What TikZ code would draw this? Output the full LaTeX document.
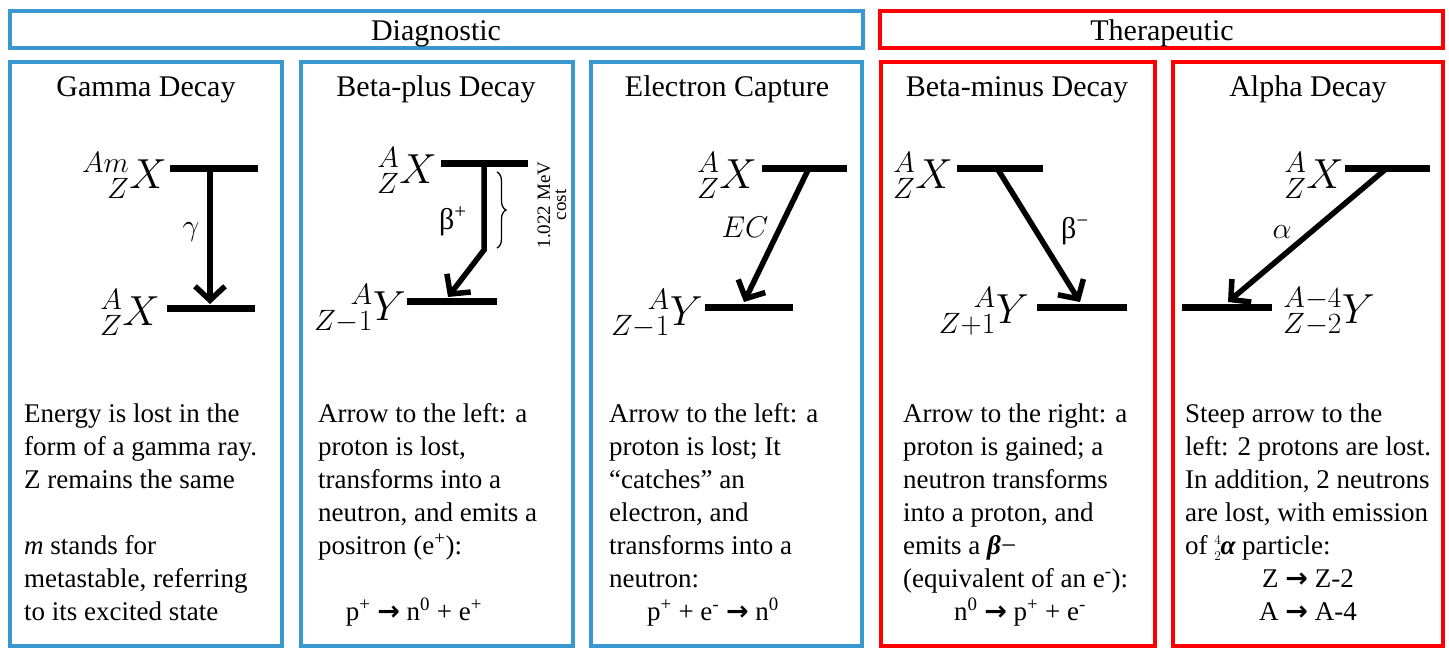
\RequirePackage{fix-cm}
\documentclass[tikz,border=0pt]{standalone}
\usepackage{fontspec}
\setmainfont{Liberation Serif}
\newfontfamily\arrowfont{DejaVu Sans}
\usetikzlibrary{arrows.meta,decorations.pathreplacing}
\definecolor{diagblue}{RGB}{57,152,208}
\definecolor{therred}{RGB}{255,0,0}
\newcommand\harr{{\arrowfont\bfseries →}}
\newcommand\nucl[3]{\setbox0\hbox{$\scriptstyle#1$}\setbox2\hbox{$\scriptstyle#2$}%
  \ifdim\wd0>\wd2 \dimen0=\wd0 \else \dimen0=\wd2 \fi
  {}^{\hbox to\dimen0{\hss\box0}}_{\hbox to\dimen0{\hss\box2}}#3}
\begin{document}
\begin{tikzpicture}[x=1pt,y=-1pt,
 dbox/.style={draw=diagblue,line width=4pt},
 tbox/.style={draw=therred,line width=4pt},
 title/.style={font=\fontsize{30}{30}\selectfont,anchor=base,inner sep=0pt},
 level/.style={line width=7pt},
 decay/.style={line width=5.5pt,-{Straight Barb[length=14pt,width=30pt]}},
 nuc/.style={anchor=base east,inner sep=0pt,font=\fontsize{42}{42}\selectfont},
 nucw/.style={nuc,anchor=base west},
 lab/.style={inner sep=0pt,font=\fontsize{30}{30}\selectfont},
 body/.style={anchor=base west,align=left,inner sep=0pt,font=\fontsize{27}{33}\selectfont},
 eqn/.style={anchor=base,inner sep=0pt,font=\fontsize{27}{33}\selectfont}]
\useasboundingbox (0,0) rectangle (1449,648);
\fill[white] (0,0) rectangle (1449,648);
% headers
\draw[dbox] (9.5,10.5) rectangle (862.5,47.5);
\draw[tbox] (880,10.5) rectangle (1443,47.5);
\node[title] (diag) at (436,40) {Diagnostic};
\node[title] (ther) at (1162,40) {Therapeutic};
% panels
\draw[dbox] (10,61.5) rectangle (281.5,646);
\draw[dbox] (300.5,61.5) rectangle (572.5,646);
\draw[dbox] (591,61.5) rectangle (862,646);
\draw[tbox] (881,61.5) rectangle (1155,646);
\draw[tbox] (1173,61.5) rectangle (1443,646);
\node[title] (t1) at (146,96) {Gamma Decay};
\node[title] (t2) at (436,96) {Beta-plus Decay};
\node[title] (t3) at (727,96) {Electron Capture};
\node[title] (t4) at (1017,96) {Beta-minus Decay};
\node[title] (t5) at (1308,96) {Alpha Decay};
% ---------- Gamma
\coordinate (g1a) at (170,168); \coordinate (g1b) at (258,168);
\coordinate (g2a) at (167,308); \coordinate (g2b) at (255,308);
\coordinate (gs) at (210,168); \coordinate (ge) at (210,304);
\draw[level] (g1a) -- (g1b);
\draw[level] (g2a) -- (g2b);
\draw[decay] (gs) -- (ge);
\node[nuc] (gX1) at (167,188) {$\nucl{Am}{Z}{X}$};
\node[nuc] (gX2) at (160,325) {$\nucl{A}{Z}{X}$};
\node[lab] (gl) at (191,232) {$\gamma$};
% ---------- Beta plus
\coordinate (b1a) at (441,163); \coordinate (b1b) at (528,163);
\coordinate (b2a) at (407,301); \coordinate (b2b) at (497,301);
\coordinate (bs) at (484,163); \coordinate (bm) at (484,250); \coordinate (be) at (448,297);
\draw[level] (b1a) -- (b1b);
\draw[level] (b2a) -- (b2b);
\draw[decay] (bs) -- (bm) -- (be);
\node[nuc] (bX1) at (437,183) {$\nucl{A}{Z}{X}$};
\node[nuc] (bX2) at (406,320) {$\nucl{A}{Z-1}{Y}$};
\node[lab] (bl) at (453,221) {β\textsuperscript{+}};
\coordinate (br1) at (497,172); \coordinate (br2) at (497,248);
\draw[decorate,decoration={brace,amplitude=9pt},line width=1.3pt] (br1) -- (br2);
\node[rotate=90,align=center,inner sep=0pt,font=\fontsize{19}{16}\selectfont] (mev) at (552,205) {1.022 MeV\\cost};
% ---------- Electron capture
\coordinate (e1a) at (762,168); \coordinate (e1b) at (847,168);
\coordinate (e2a) at (705,307); \coordinate (e2b) at (793,307);
\coordinate (es) at (809,168); \coordinate (ee) at (744,302);
\draw[level] (e1a) -- (e1b);
\draw[level] (e2a) -- (e2b);
\draw[decay] (es) -- (ee);
\node[nuc] (eX1) at (757,188) {$\nucl{A}{Z}{X}$};
\node[nuc] (eX2) at (703,325) {$\nucl{A}{Z-1}{Y}$};
\node[lab] (el) at (745,227) {$EC$};
% ---------- Beta minus
\coordinate (m1a) at (957,168); \coordinate (m1b) at (1043,168);
\coordinate (m2a) at (1037,307); \coordinate (m2b) at (1127,307);
\coordinate (ms) at (997,168); \coordinate (me) at (1080,302);
\draw[level] (m1a) -- (m1b);
\draw[level] (m2a) -- (m2b);
\draw[decay] (ms) -- (me);
\node[nuc] (mX1) at (953,188) {$\nucl{A}{Z}{X}$};
\node[nuc] (mX2) at (1029,323) {$\nucl{A}{Z+1}{Y}$};
\node[lab] (ml) at (1075,231) {β\textsuperscript{−}};
% ---------- Alpha
\coordinate (a1a) at (1345,168); \coordinate (a1b) at (1430,168);
\coordinate (a2a) at (1182,307); \coordinate (a2b) at (1272,307);
\coordinate (as) at (1387,168); \coordinate (ae) at (1228,302);
\draw[level] (a1a) -- (a1b);
\draw[level] (a2a) -- (a2b);
\draw[decay] (as) -- (ae);
\node[nuc] (aX1) at (1344,188) {$\nucl{A}{Z}{X}$};
\node[nucw] (aX2) at (1283,323) {$\nucl{A-4}{Z-2}{Y}$};
\node[lab] (al) at (1282,232) {$\alpha$};
% ---------- texts (anchor = baseline of last line)
\node[body] (tx1) at (24,620) {Energy is lost in the\\form of a gamma ray.\\Z remains the same\\[33pt]\textit{m} stands for\\metastable, referring\\to its excited state};
\node[body] (tx2) at (318,554) {Arrow to the left: a\\proton is lost,\\transforms into a\\neutron, and emits a\\positron (e\textsuperscript{+}):};
\node[eqn] (eq2) at (414,620) {p\textsuperscript{+} \harr{} n\textsuperscript{0} + e\textsuperscript{+}};
\node[body] (tx3) at (609,587) {Arrow to the left: a\\proton is lost; It\\“catches” an\\electron, and\\transforms into a\\neutron:};
\node[eqn] (eq3) at (713,620) {p\textsuperscript{+} + e\textsuperscript{-} \harr{} n\textsuperscript{0}};
\node[body] (tx4) at (903,587) {Arrow to the right: a\\proton is gained; a\\neutron transforms\\into a proton, and\\emits a {\bfseries\itshape β}−\\(equivalent of an e\textsuperscript{-}):};
\node[eqn] (eq4) at (1020,620) {n\textsuperscript{0} \harr{} p\textsuperscript{+} + e\textsuperscript{-}};
\node[body] (tx5) at (1185,554) {Steep arrow to the\\left: 2 protons are lost.\\In addition, 2 neutrons\\are lost, with emission\\of ${}^{\scriptscriptstyle 4}_{\scriptscriptstyle 2}$\kern-1pt{\bfseries\itshape α} particle:};
\node[eqn] (eq5a) at (1308,587) {Z \harr{} Z-2};
\node[eqn] (eq5b) at (1308,620) {A \harr{} A-4};
\end{tikzpicture}
\end{document}
